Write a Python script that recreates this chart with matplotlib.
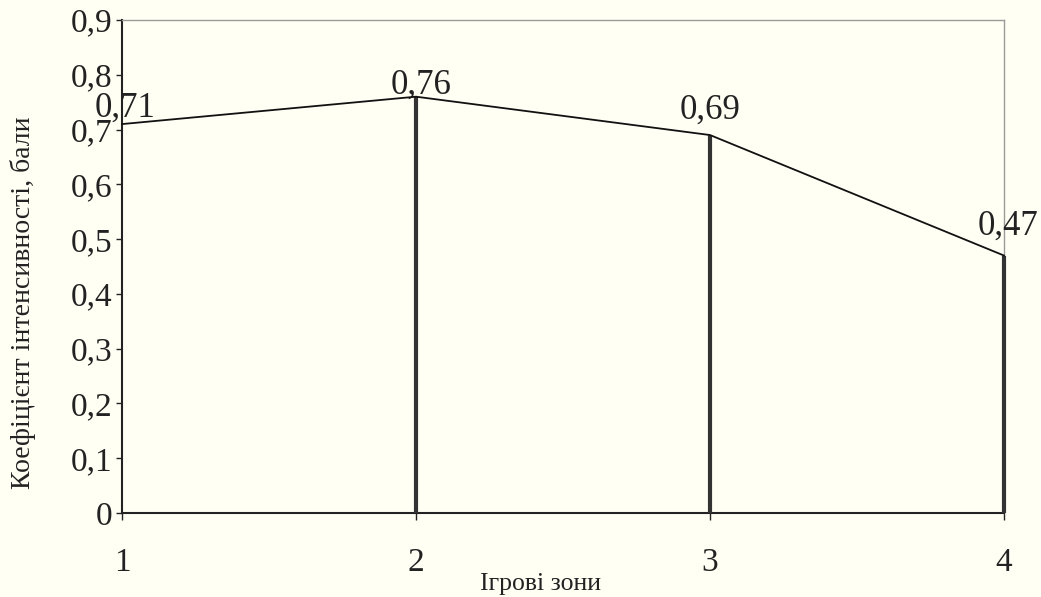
import matplotlib
matplotlib.use("Agg")
import matplotlib.pyplot as plt

zones = [1, 2, 3, 4]
values = [0.71, 0.76, 0.69, 0.47]
value_labels = ["0,71", "0,76", "0,69", "0,47"]
y_ticks = [0, 0.1, 0.2, 0.3, 0.4, 0.5, 0.6, 0.7, 0.8, 0.9]
y_tick_labels = ["0", "0,1", "0,2", "0,3", "0,4", "0,5", "0,6", "0,7", "0,8", "0,9"]
x_label = "Ігрові зони"
y_label = "Коефіцієнт інтенсивності, бали"

# label placement offsets (points), layout only
label_offsets = [(2, 5), (4, 2), (0, 12), (3, 15)]

plt.rcParams['font.family'] = ['Liberation Serif', 'DejaVu Serif']
bg = '#fffff4'

fig = plt.figure(figsize=(10.41, 5.97), dpi=100, facecolor=bg)
ax = fig.add_axes([122/1041, 1 - 513/597, (1004-122)/1041, (513-20)/597])
ax.set_facecolor(bg)

# drop lines
ax.vlines(zones[1:], 0, values[1:], color='#333333', linewidth=3.0, zorder=4, clip_on=False)
# main line
ax.plot(zones, values, color='#111111', linewidth=1.3, zorder=5, clip_on=False)

for x, v, lab, off in zip(zones, values, value_labels, label_offsets):
    ax.annotate(lab, (x, v), xytext=off, textcoords='offset points',
                ha='center', va='baseline', fontsize=25, color='#222222')

ax.set_xlim(1, 4)
ax.set_ylim(0, 0.9)
ax.set_xticks(zones)
ax.set_xticklabels([str(z) for z in zones])
ax.set_yticks(y_ticks)
ax.set_yticklabels(y_tick_labels)

ax.tick_params(axis='y', labelsize=24, length=4, width=1, pad=3, colors='#222222')
ax.tick_params(axis='x', labelsize=24, length=5, width=1, pad=20, colors='#222222')

for s in ['left', 'bottom']:
    ax.spines[s].set_color('#222222')
    ax.spines[s].set_linewidth(1.5)
for s in ['top', 'right']:
    ax.spines[s].set_color('#9a9a9a')
    ax.spines[s].set_linewidth(1.0)

fig.text(541/1041, 1 - 584/597, x_label, ha='center', va='center', fontsize=18.5, color='#222222')
fig.text(23/1041, 1 - 303/597, y_label, ha='center', va='center', rotation=90, fontsize=20, color='#222222')

fig.savefig('out.png', dpi=100, facecolor=bg)
